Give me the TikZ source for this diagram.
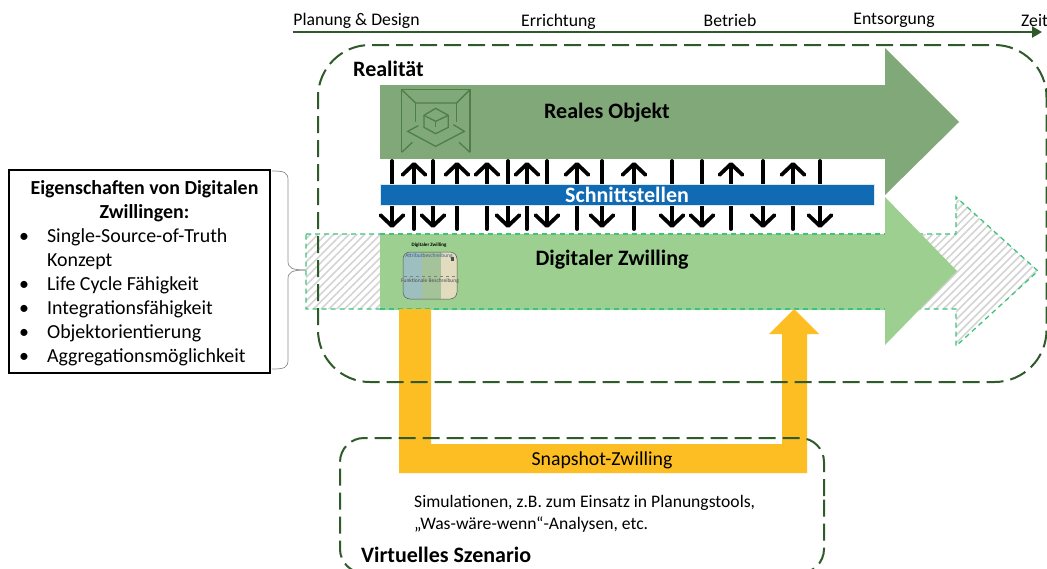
\documentclass[tikz,border=0pt]{standalone}
\usepackage{fontspec}
\setmainfont{Carlito}
\usetikzlibrary{arrows.meta,patterns.meta,calc}
\definecolor{dkgreen}{HTML}{2F5A2A}
\definecolor{realgreen}{HTML}{80A878}
\definecolor{digigreen}{HTML}{9CCF90}
\definecolor{dashgreen}{HTML}{3CC47C}
\definecolor{ifblue}{HTML}{116AB4}
\definecolor{snapyellow}{HTML}{FDBE24}
\definecolor{icongreen}{HTML}{4E7F48}
\definecolor{miniblue}{HTML}{9DBFC0}
\definecolor{minigreen}{HTML}{A5C39A}
\definecolor{minibeige}{HTML}{E2DBBD}
\definecolor{minitext}{HTML}{3F5E86}
\tikzset{
  px/.style={font=\fontsize{#1}{#1}\selectfont},
  bpx/.style={font=\fontsize{#1}{#1}\selectfont\bfseries},
  lbl/.style={inner sep=0pt,text=black},
  scenario/.style={draw=dkgreen,line width=2pt,dash pattern=on 17pt off 7pt},
  ghost/.style={draw=dashgreen,line width=1.3pt,dash pattern=on 5pt off 4pt},
  hatch/.style={pattern={Lines[angle=45,distance=5.5pt,line width=1.6pt]},pattern color=black!17},
  flow/.style={line width=3.8pt,line cap=round,black},
  up/.style={flow,-{Straight Barb[length=11pt,width=23pt,line width=3.8pt,round]}},
  iconline/.style={draw=icongreen,line width=1.3pt}
}
\begin{document}
\begin{tikzpicture}[x=1pt,y=-1pt]
\clip (0,0) rectangle (1047,568);
\fill[white] (0,0) rectangle (1047,568);

% timeline
\coordinate (t0) at (293,32);
\coordinate (t1) at (1042,32);
\draw[dkgreen,line width=2.8pt,-{Triangle[length=10pt,width=11pt]}] (t0) -- (t1);
\node[lbl,px=17.7] (tp) at (356.5,20.5) {Planung \& Design};
\node[lbl,px=17.7] (te) at (558.5,21.5) {Errichtung};
\node[lbl,px=17.7] (tb) at (730,20) {Betrieb};
\node[lbl,px=17.7] (ts) at (894,20) {Entsorgung};
\node[lbl,px=17.7,anchor=west] (tz) at (1021,20) {Zeit};

% hatched future arrow
\path[hatch] (306,234) -- (956,234) -- (956,197) -- (1038,271) -- (956,346) -- (956,309) -- (306,309) -- cycle;
\draw[ghost] (306,234) -- (956,234) -- (956,197) -- (1038,271) -- (956,346) -- (956,309) -- (306,309) -- cycle;

% real object arrow
\fill[realgreen] (380,85) -- (885,85) -- (885,48) -- (959,122) -- (885,195) -- (885,159) -- (380,159) -- cycle;
\fill[white] (380,159) rectangle (885,234);
% digital twin arrow
\fill[digigreen] (380,234) -- (885,234) -- (885,197) -- (957,271) -- (885,345) -- (885,309) -- (380,309) -- cycle;
\draw[ghost] (380,234) -- (885,234);
\draw[ghost] (380,309) -- (885,309);

% exchange arrows
\foreach \x in {414,457,487,527,577,634,731,793}{
  \coordinate (a\x) at (\x,229);
  \coordinate (b\x) at (\x,162);
  \draw[up] (a\x) -- (b\x);
}
\foreach \x in {392,433,508,547,602,672,702,763,820}{
  \coordinate (a\x) at (\x,161);
  \coordinate (b\x) at (\x,228);
  \draw[up] (a\x) -- (b\x);
}
% interface bar
\node[draw=white!85!ifblue,line width=0.6pt,fill=ifblue,text=white,bpx=22,
      minimum width=494pt,minimum height=21pt,inner sep=0pt] (bar) at (627,194.5) {Schnittstellen};

% yellow snapshot arrow
\fill[snapyellow] (399,309) -- (431,309) -- (431,444) -- (782,444) -- (782,334) -- (769,334) -- (794,309) -- (819,334) -- (807,334) -- (807,473) -- (399,473) -- cycle;
\node[lbl,px=19.8] (snap) at (602,460) {Snapshot-Zwilling};

% frames
\draw[scenario,rounded corners=52pt] (1046.5,140) -- (1046.5,45) -- (318,45) -- (318,382) -- (1046.5,382) -- cycle;
\draw[scenario,rounded corners=24pt] (824,520) -- (824,438) -- (340,438) -- (340,573) -- (824,573) -- cycle;

% labels
\node[lbl,bpx=22,anchor=west] (real) at (353,68.5) {Realität};
\node[lbl,bpx=22] (ro) at (607,113) {Reales Objekt};
\node[lbl,bpx=22] (dz) at (612,260) {Digitaler Zwilling};
\node[lbl,anchor=west,align=left,font=\fontsize{17.6}{22}\selectfont] (sim) at (414,514) {Simulationen, z.B. zum Einsatz in Planungstools,\\ „Was-wäre-wenn“-Analysen, etc.};
\node[lbl,bpx=22,anchor=west] (vs) at (361,555) {Virtuelles Szenario};

% properties box
\node[draw=black,line width=1.3pt,fill=white,minimum width=261pt,minimum height=203pt,inner sep=0pt] (box) at (139.5,271.5) {};
\node[lbl,align=center,font=\fontsize{19.9}{24}\selectfont\bfseries] (title) at (144.5,201.5) {Eigenschaften von Digitalen\\Zwillingen:};
\node[lbl,anchor=north west,font=\fontsize{19.9}{24}\selectfont] (list) at (19,225) {%
  \begin{tabular}{@{}l@{\hspace{18pt}}l@{}}
  •&Single-Source-of-Truth\\
  &Konzept\\
  •&Life Cycle Fähigkeit\\
  •&Integrationsfähigkeit\\
  •&Objektorientierung\\
  •&Aggregationsmöglichkeit
  \end{tabular}};

% brace
\coordinate (br) at (306,270);
\draw[black!45,line width=0.7pt] (272,171) .. controls (284,171) and (288,172) .. (288,180) -- (288,261) .. controls (288,268) and (292,270) .. (br);
\draw[black!45,line width=0.7pt] (272,369) .. controls (284,369) and (288,368) .. (288,360) -- (288,279) .. controls (288,272) and (292,270) .. (br);

% real-object icon
\begin{scope}[shift={(395,83)},x=0.3333pt,y=-0.3333pt]
  \draw[iconline] (20,208) -- (20,20) -- (225,20) -- (225,208);
  \draw[iconline] (20,20) -- (62,60) -- (185,60) -- (225,20);
  \draw[iconline] (62,60) -- (62,118);
  \draw[iconline] (185,60) -- (185,118);
  \draw[iconline] (20,208) -- (52,178);
  \draw[iconline] (225,208) -- (192,178);
  \draw[iconline] (70,128) -- (38,145) -- (122,190) -- (208,145) -- (175,125);
  \draw[iconline] (122,76) -- (160,97) -- (160,133) -- (122,152) -- (87,133) -- (87,97) -- cycle;
  \draw[iconline] (87,97) -- (122,115) -- (160,97);
  \draw[iconline] (122,115) -- (122,133);
\end{scope}

% digital twin mini icon
\begin{scope}
  \clip[rounded corners=7pt] (403,252) rectangle (457,299);
  \fill[miniblue] (403,252) rectangle (422,299);
  \fill[minigreen] (422,252) rectangle (441,299);
  \fill[minibeige] (441,252) rectangle (457,299);
\end{scope}
\draw[black!65,line width=0.5pt,rounded corners=7pt] (403,252) rectangle (457,299);
\node[lbl,bpx=5] (mt) at (429,245.5) {Digitaler Zwilling};
\node[lbl,px=5.5,text=minitext] (ma) at (429,256.5) {Attributbeschreibung};
\node[lbl,px=5.5,text=black!70] (mf) at (430,281) {Funktionale Beschreibung};
\draw[black!50,line width=0.4pt,dashed] (404,276) -- (456,276);
\fill[black!70] (451,257) rectangle (454,261);
\end{tikzpicture}
\end{document}
